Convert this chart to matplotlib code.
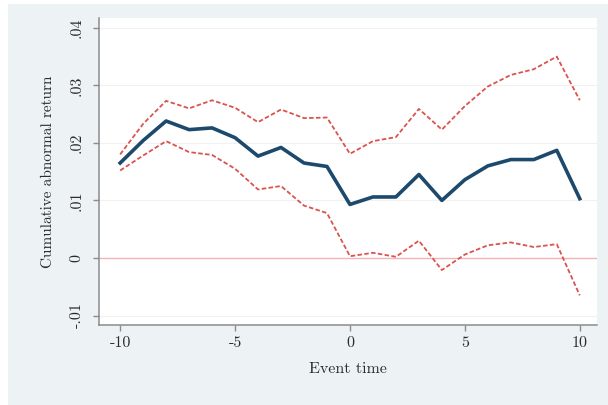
import matplotlib
matplotlib.use("Agg")
import matplotlib.pyplot as plt
from matplotlib.patches import Rectangle

# event window and cumulative abnormal returns with confidence band
event_time = [-10, -9, -8, -7, -6, -5, -4, -3, -2, -1, 0, 1, 2, 3, 4, 5, 6, 7, 8, 9, 10]
car_mean = [0.0165, 0.0204, 0.0238, 0.0223, 0.0226, 0.0209, 0.0177, 0.0192, 0.0165, 0.0159,
            0.0093, 0.0106, 0.0106, 0.0145, 0.0100, 0.0136, 0.0160, 0.0171, 0.0171, 0.0187, 0.0103]
car_upper = [0.0180, 0.0233, 0.0273, 0.0260, 0.0274, 0.0261, 0.0236, 0.0258, 0.0243, 0.0244,
             0.0181, 0.0203, 0.0210, 0.0259, 0.0223, 0.0264, 0.0298, 0.0318, 0.0328, 0.0350, 0.0274]
car_lower = [0.0152, 0.0178, 0.0203, 0.0184, 0.0179, 0.0155, 0.0119, 0.0125, 0.0091, 0.0078,
             0.0003, 0.0009, 0.0002, 0.0030, -0.0021, 0.0006, 0.0022, 0.0027, 0.0019, 0.0024, -0.0065]

x_ticks = [-10, -5, 0, 5, 10]
x_ticklabels = ["-10", "-5", "0", "5", "10"]
y_ticks = [-0.01, 0.0, 0.01, 0.02, 0.03, 0.04]
y_ticklabels = ["-.01", "0", ".01", ".02", ".03", ".04"]

plt.rcParams["font.family"] = ["cmr10", "DejaVu Serif"]

fig = plt.figure(figsize=(6.08, 4.05), dpi=100, facecolor="white")
# light panel behind the plot
fig.add_artist(Rectangle((8 / 608, 0), 1, 1 - 4 / 405, transform=fig.transFigure,
                         facecolor="#edf2f5", edgecolor="none", zorder=-10))

ax = fig.add_axes([99 / 608, 80 / 405, 498 / 608, 307 / 405])
ax.set_facecolor("white")

for yv in y_ticks:
    ax.axhline(yv, color="#f1f1f1", linewidth=0.8, zorder=1)
ax.axhline(0, color="#f2b5b8", linewidth=1.0, zorder=2)

ax.plot(event_time, car_upper, color="#d9534f", linewidth=1.3, dashes=(2.5, 1.3), zorder=3)
ax.plot(event_time, car_lower, color="#d9534f", linewidth=1.3, dashes=(2.5, 1.3), zorder=3)
ax.plot(event_time, car_mean, color="#1d4a6c", linewidth=2.6, zorder=4)

ax.set_xlim(-10.92, 10.75)
ax.set_ylim(-0.01165, 0.0417)

ax.set_xticks(x_ticks)
ax.set_xticklabels(x_ticklabels)
ax.set_yticks(y_ticks)
ax.set_yticklabels(y_ticklabels, rotation=90, va="center")

for side in ["top", "right"]:
    ax.spines[side].set_visible(False)
for side in ["left", "bottom"]:
    ax.spines[side].set_color("#8c8c8c")
    ax.spines[side].set_linewidth(1.1)

ax.tick_params(axis="both", length=4, width=1.0, color="#8c8c8c",
               labelsize=11.5, labelcolor="#2b2b2b")
ax.tick_params(axis="y", pad=7)
ax.tick_params(axis="x", pad=4)

ax.set_xlabel("Event time", fontsize=11.5, color="#2b2b2b", labelpad=9)
ax.set_ylabel("Cumulative abnormal return", fontsize=11, color="#2b2b2b", labelpad=11)

fig.savefig("out.png", dpi=100)
